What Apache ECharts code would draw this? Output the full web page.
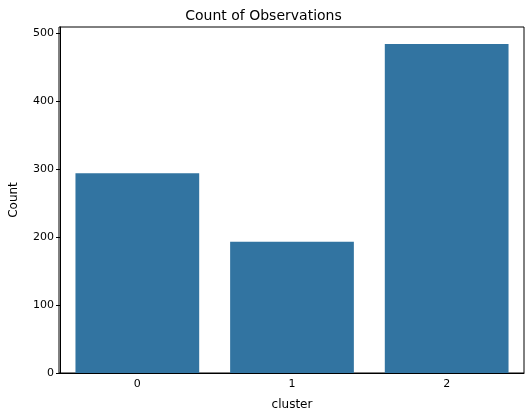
<!DOCTYPE html>
<html>
<head>
<meta charset="utf-8">
<script src="https://cdn.jsdelivr.net/npm/echarts@6/dist/echarts.min.js"></script>
<style>html,body{margin:0;padding:0;background:#fff}#chart{width:527px;height:416px}</style>
</head>
<body>
<div id="chart"></div>
<script>
// data
const clusters = ['0', '1', '2'];
const counts = [294, 193, 484];

const chart = echarts.init(document.getElementById('chart'));
const font = 'DejaVu Sans';
chart.setOption({
  animation: false,
  title: {
    text: 'Count of Observations', left: 'center', top: 4,
    textStyle: { fontFamily: font, fontSize: 14, fontWeight: 'normal', color: '#000' }
  },
  grid: { left: 59, right: 3, top: 27, bottom: 43 },
  xAxis: {
    type: 'category', data: clusters, name: 'cluster', nameLocation: 'middle', nameGap: 26,
    nameTextStyle: { fontFamily: font, fontSize: 12, color: '#000' },
    axisLine: { lineStyle: { color: '#000' } },
    axisTick: { alignWithLabel: true, length: 4, lineStyle: { color: '#000' } },
    axisLabel: { fontFamily: font, fontSize: 11, color: '#000', margin: 6 },
    splitLine: { show: false }
  },
  yAxis: {
    type: 'value', min: 0, max: 509, interval: 100, name: 'Count', nameLocation: 'middle', nameGap: 40,
    nameTextStyle: { fontFamily: font, fontSize: 12, color: '#000' },
    axisLine: { show: true, lineStyle: { color: '#000' } },
    axisTick: { show: true, length: 4, lineStyle: { color: '#000' } },
    axisLabel: { fontFamily: font, fontSize: 11, color: '#000', margin: 6, showMaxLabel: false },
    splitLine: { show: false }
  },
  series: [{
    type: 'bar', data: counts, barWidth: '80%',
    itemStyle: { color: '#3274a1' }
  }]
});
// top and right spines
chart.setOption({
  graphic: [{
    type: 'rect', shape: { x: 59, y: 27, width: 465, height: 346 },
    style: { fill: 'none', stroke: '#000', lineWidth: 1 }, silent: true
  }]
});
</script>
</body>
</html>
